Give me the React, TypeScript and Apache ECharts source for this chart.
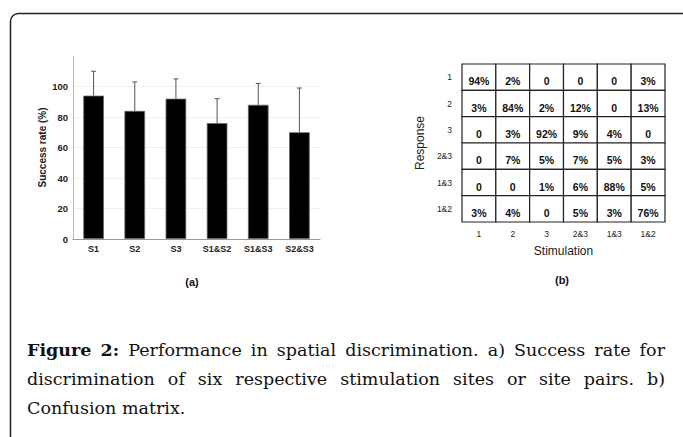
import React, { useEffect, useRef } from "react";
import * as echarts from "echarts";

const barCategories = ["S1", "S2", "S3", "S1&S2", "S1&S3", "S2&S3"];
const successRate = [94, 84, 92, 76, 88, 70];
const successErr = [16, 19, 13, 16, 14, 29];

const stimLabels = ["1", "2", "3", "2&3", "1&3", "1&2"];
const responseLabels = ["1", "2", "3", "2&3", "1&3", "1&2"];
const confusionRows = [
  [94, 2, 0, 0, 0, 3],
  [3, 84, 2, 12, 0, 13],
  [0, 3, 92, 9, 4, 0],
  [0, 7, 5, 7, 5, 3],
  [0, 0, 1, 6, 88, 5],
  [3, 4, 0, 5, 3, 76],
];

const captionLines: { words: { t: string; b?: boolean }[]; justify: boolean }[] = [
  {
    words: [
      { t: "Figure", b: true },
      { t: "2:", b: true },
      ...["Performance", "in", "spatial", "discrimination.", "a)", "Success", "rate", "for"].map((t) => ({ t })),
    ],
    justify: true,
  },
  {
    words: "discrimination of six respective stimulation sites or site pairs. b)".split(" ").map((t) => ({ t })),
    justify: true,
  },
  { words: "Confusion matrix.".split(" ").map((t) => ({ t })), justify: false },
];

const SANS = '"Liberation Sans", Arial, sans-serif';
const SERIF = '"DejaVu Serif", "Liberation Serif", serif';

function buildCaption() {
  const canvas = document.createElement("canvas");
  const ctx = canvas.getContext("2d")!;
  const fs = 17.5;
  const left = 27;
  const right = 665;
  const ys = [350, 379, 408];
  const els: any[] = [];
  ctx.font = `${fs}px ${SERIF}`;
  const spaceW = ctx.measureText(" ").width;
  captionLines.forEach((line, li) => {
    const widths = line.words.map((w) => {
      ctx.font = `${w.b ? "bold " : ""}${fs}px ${SERIF}`;
      return ctx.measureText(w.t).width;
    });
    const total = widths.reduce((a, b) => a + b, 0);
    let gap = line.justify ? (right - left - total) / (line.words.length - 1) : spaceW;
    if (gap < 3) gap = 3;
    let x = left;
    line.words.forEach((w, i) => {
      els.push({
        type: "text",
        x,
        y: ys[li],
        style: {
          text: w.t,
          fill: "#111",
          fontSize: fs,
          fontFamily: SERIF,
          fontWeight: w.b ? "bold" : "normal",
          textVerticalAlign: "middle",
        },
      });
      x += widths[i] + gap;
    });
  });
  return els;
}

export default function App() {
  const ref = useRef<HTMLDivElement>(null);
  useEffect(() => {
    const chart = echarts.init(ref.current!, null, { renderer: "svg" });
    const matrixData: number[][] = [];
    confusionRows.forEach((row, r) => row.forEach((v, c) => matrixData.push([c, r, v])));
    const option: any = {
      animation: false,
      backgroundColor: "#fff",
      grid: [
        { left: 73, right: 363, top: 56, bottom: 198 },
        { left: 462, right: 18, top: 64, bottom: 215 },
      ],
      xAxis: [
        {
          gridIndex: 0,
          type: "category",
          data: barCategories,
          axisLine: { lineStyle: { color: "#999", width: 1 } },
          axisTick: { show: false },
          axisLabel: { color: "#222", fontSize: 9, fontWeight: "bold", fontFamily: SANS, margin: 5 },
        },
        {
          gridIndex: 1,
          type: "category",
          data: stimLabels,
          axisLine: { show: false },
          axisTick: { show: false },
          axisLabel: { color: "#222", fontSize: 8.5, fontFamily: SANS, margin: 7 },
          name: "Stimulation",
          nameLocation: "middle",
          nameGap: 23,
          nameTextStyle: { color: "#222", fontSize: 12, fontFamily: SANS },
        },
      ],
      yAxis: [
        {
          gridIndex: 0,
          type: "value",
          min: 0,
          max: 120,
          interval: 20,
          axisLine: { show: true, lineStyle: { color: "#bbb", width: 1 } },
          axisTick: { show: false },
          axisLabel: {
            color: "#222",
            fontSize: 9.5,
            fontWeight: "bold",
            fontFamily: SANS,
            margin: 5,
            formatter: (v: number) => (v === 120 ? "" : String(v)),
          },
          splitLine: {
            show: true,
            lineStyle: { color: ["#ddd", "#f0f0f0", "#f0f0f0", "#f0f0f0", "#f0f0f0", "#f0f0f0", "rgba(0,0,0,0)"] },
          },
          name: "Success rate (%)",
          nameLocation: "middle",
          nameGap: 26,
          nameTextStyle: { color: "#222", fontSize: 10, fontWeight: "bold", fontFamily: SANS },
        },
        {
          gridIndex: 1,
          type: "category",
          data: responseLabels,
          inverse: true,
          axisLine: { show: false },
          axisTick: { show: false },
          axisLabel: { color: "#222", fontSize: 8.5, fontFamily: SANS, margin: 10 },
          name: "Response",
          nameLocation: "middle",
          nameGap: 36,
          nameTextStyle: { color: "#222", fontSize: 12, fontFamily: SANS },
        },
      ],
      series: [
        {
          type: "bar",
          xAxisIndex: 0,
          yAxisIndex: 0,
          data: successRate,
          barWidth: "50%",
          itemStyle: { color: "#000", borderColor: "#666", borderWidth: 0.8 },
        },
        {
          type: "custom",
          xAxisIndex: 0,
          yAxisIndex: 0,
          z: 5,
          data: successRate.map((v, i) => [i, v, successErr[i]]),
          renderItem: (params: any, api: any) => {
            const x = api.value(0);
            const v = api.value(1);
            const e = api.value(2);
            const p1 = api.coord([x, v]);
            const p2 = api.coord([x, v + e]);
            const st = { stroke: "#555", lineWidth: 1 };
            return {
              type: "group",
              children: [
                { type: "line", shape: { x1: p1[0], y1: p1[1], x2: p2[0], y2: p2[1] }, style: st },
                { type: "line", shape: { x1: p2[0] - 2.5, y1: p2[1], x2: p2[0] + 2.5, y2: p2[1] }, style: st },
              ],
            };
          },
        },
        {
          type: "custom",
          xAxisIndex: 1,
          yAxisIndex: 1,
          data: matrixData,
          renderItem: (params: any, api: any) => {
            const c = api.coord([api.value(0), api.value(1)]);
            const s = api.size([1, 1]);
            const v = api.value(2);
            return {
              type: "group",
              children: [
                {
                  type: "rect",
                  shape: { x: c[0] - s[0] / 2, y: c[1] - s[1] / 2, width: s[0], height: s[1] },
                  style: { fill: "#fff", stroke: "#222", lineWidth: 1.2 },
                },
                {
                  type: "text",
                  style: {
                    text: v === 0 ? "0" : v + "%",
                    x: c[0],
                    y: c[1] + 4,
                    textAlign: "center",
                    textVerticalAlign: "middle",
                    fill: "#111",
                    fontSize: 10.5,
                    fontWeight: "bold",
                    fontFamily: SANS,
                  },
                },
              ],
            };
          },
        },
      ],
      graphic: [
        {
          type: "rect",
          shape: { x: 10.5, y: 13.5, width: 720, height: 470, r: 8 },
          style: { fill: "none", stroke: "#222", lineWidth: 1.5 },
        },
        {
          type: "text",
          x: 192,
          y: 282,
          style: {
            text: "(a)",
            fill: "#111",
            fontSize: 11,
            fontWeight: "bold",
            fontFamily: SANS,
            textAlign: "center",
            textVerticalAlign: "middle",
          },
        },
        {
          type: "text",
          x: 562,
          y: 280,
          style: {
            text: "(b)",
            fill: "#111",
            fontSize: 11,
            fontWeight: "bold",
            fontFamily: SANS,
            textAlign: "center",
            textVerticalAlign: "middle",
          },
        },
        ...buildCaption(),
      ],
    };
    chart.setOption(option);
    return () => chart.dispose();
  }, []);
  return (
    <div
      ref={ref}
      style={{ position: "fixed", left: 0, top: 0, width: 683, height: 437, background: "#fff" }}
    />
  );
}
